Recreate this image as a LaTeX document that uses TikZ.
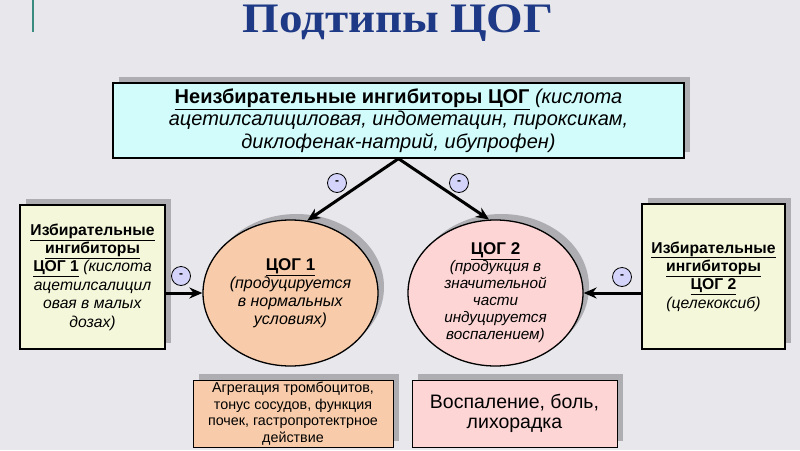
\documentclass[tikz,border=0pt]{standalone}
\usepackage{graphicx}
\usepackage{fontspec}
\setmainfont{Liberation Sans}
\newfontfamily\titlefont{Liberation Serif}
\usetikzlibrary{arrows.meta, positioning, shapes.geometric, shadows}
\definecolor{bgcol}{HTML}{E8E7EB}
\definecolor{shadecol}{HTML}{AEAEB2}
\definecolor{cyanbox}{HTML}{D2FCFC}
\definecolor{yellowbox}{HTML}{F4F7DA}
\definecolor{peach}{HTML}{F8CCAA}
\definecolor{pinkish}{HTML}{FDD5D5}
\definecolor{minuscol}{HTML}{D4D4FA}
\definecolor{titleblue}{HTML}{1E3A86}
\definecolor{tealline}{HTML}{3A8C80}
\tikzset{x = 1pt, y = -1pt,
         >= {Stealth[length = 13pt, width = 11pt]},
         shade/.style = {drop shadow = {shadow xshift = 6pt, shadow yshift = 6pt,
                         fill = shadecol, opacity = 1}},
         box/.style = {draw, line width = 1.3pt, align = center, inner sep = 2pt, shade},
         cog/.style = {ellipse, draw, line width = 1.3pt, align = center, shade,
                       minimum width = 175pt, minimum height = 146pt, inner sep = 0pt},
         minus/.style = {circle, draw, line width = 0.8pt, fill = minuscol,
                         minimum size = 19pt, inner sep = 0pt, font = \bfseries\fontsize{12}{12}\selectfont},
         arr/.style = {->, line width = 3pt}}

\begin{document}
\begin{tikzpicture}
        \fill[bgcol] (0,0) rectangle (800,450);
        \useasboundingbox (0,0) rectangle (800,450);
        \draw[tealline, line width = 2pt] (33,0) -- (33,32);
        \node[titleblue, anchor = base, inner sep = 0pt,
              font = \titlefont\bfseries\fontsize{42}{42}\selectfont] (title) at (398,32)
              {\scalebox{1.12}[1]{Подтипы ЦОГ}};

        % top box
        \node[box, fill = cyanbox, minimum width = 571pt, minimum height = 75pt,
              font = \fontsize{20}{22.5}\selectfont] (nonsel) at (398.5,120.5)
              {\underline{\textbf{Неизбирательные ингибиторы ЦОГ}} \textit{(кислота}\\
               \textit{ацетилсалициловая, индометацин, пироксикам,}\\
               \textit{диклофенак-натрий, ибупрофен)}};

        % side boxes
        \node[box, fill = yellowbox, minimum width = 145pt, minimum height = 144pt,
              font = \fontsize{15.7}{18.4}\selectfont] (sel1) at (92.5,277)
              {\underline{\textbf{Избирательные}}\\ \underline{\textbf{ингибиторы}}\\
               \underline{\textbf{ЦОГ 1}} \textit{(кислота}\\ \textit{ацетилсалицил}\\
               \textit{овая в малых}\\ \textit{дозах)}};
        \node[box, fill = yellowbox, minimum width = 143pt, minimum height = 145pt,
              font = \fontsize{15.7}{18.4}\selectfont] (sel2) at (713.5,276.5)
              {\underline{\textbf{Избирательные}}\\ \underline{\textbf{ингибиторы}}\\
               \underline{\textbf{ЦОГ 2}}\\ \textit{(целекоксиб)}};

        % enzymes
        \node[cog, fill = peach, font = \fontsize{16}{18}\selectfont] (cog1) at (290.5,293)
              {\underline{\textbf{\fontsize{17}{18}\selectfont ЦОГ 1}}\\ \textit{(продуцируется}\\
               \textit{в нормальных}\\ \textit{условиях)}};
        \node[cog, fill = pinkish, font = \fontsize{15.3}{17}\selectfont] (cog2) at (495.5,293)
              {\underline{\textbf{\fontsize{17}{17}\selectfont ЦОГ 2}}\\ \textit{(продукция в}\\
               \textit{значительной}\\ \textit{части}\\
               \textit{индуцируется}\\ \textit{воспалением)}};

        % effects
        \node[box, fill = peach, line width = 1pt, minimum width = 200pt, minimum height = 67pt,
              inner sep = 0pt, font = \fontsize{14.3}{16.5}\selectfont] (eff1) at (293,413.5)
              {Агрегация тромбоцитов,\\ тонус сосудов, функция\\ почек, гастропротектрное\\ действие};
        \node[box, fill = pinkish, line width = 1pt, minimum width = 205pt, minimum height = 67pt,
              font = \fontsize{19.5}{20.5}\selectfont] (eff2) at (514.5,413.5)
              {Воспаление, боль,\\ лихорадка};

        % inhibition arrows
        \draw[arr] (nonsel.south) -- (cog1.77);
        \draw[arr] (nonsel.south) -- (cog2.95);
        \draw[arr] (sel1.east |- cog1.west) -- (cog1.west);
        \draw[arr] (sel2.west |- cog2.east) -- (cog2.east);

        \node[minus] (m1) at (337,183) {-};
        \node[minus] (m2) at (459,183) {-};
        \node[minus] (m3) at (181,276) {-};
        \node[minus] (m4) at (622,277) {-};
\end{tikzpicture}
\end{document}
